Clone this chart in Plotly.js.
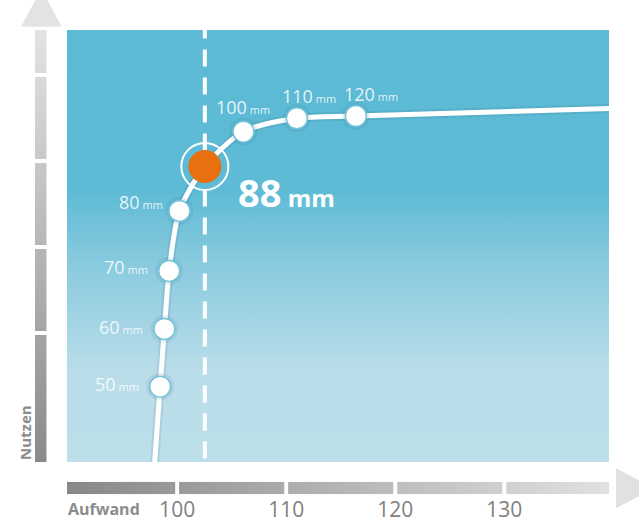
<!DOCTYPE html>
<html><head><meta charset="utf-8">
<script src="https://cdn.plot.ly/plotly-3.0.1.min.js"></script>
<style>html,body{margin:0;padding:0;background:#fff;}#chart{width:639px;height:524px;}</style>
</head><body><div id="chart"></div>
<script>
// ---------- data ----------
const xTicks = [100, 110, 120, 130];
const xTickLabels = ['100', '110', '120', '130'];
const yTicks = [1, 2, 3, 4];
const xRange = [89.9, 139.6];
const yRange = [-0.5, 4.523];

const sizeLabels = [50, 60, 70, 80, 100, 110, 120];
const sizeX = [98.44, 98.83, 99.27, 100.21, 106.08, 110.98, 116.39];
const sizeY = [0.376, 1.047, 1.721, 2.419, 3.341, 3.497, 3.523];

const optLabel = [88];
const optX = [102.54];
const optY = [2.936];

const curveX = [97.94, 98.44, 98.83, 99.27, 100.21, 102.54, 106.08, 110.98, 116.39, 139.63];
const curveY = [-0.5, 0.376, 1.047, 1.721, 2.419, 2.936, 3.341, 3.497, 3.523, 3.610];

// ---------- styles ----------
const W = 639, H = 524;
const px = v => v / W, py = v => 1 - v / H;
const FONT = 'Open Sans, sans-serif';
// label placement (pixel offsets relative to the point)
const labelStyle = [
  {anchor: 'right', dx: -19, dy: 3},
  {anchor: 'right', dx: -19, dy: 2},
  {anchor: 'right', dx: -19, dy: 4},
  {anchor: 'right', dx: -14, dy: 9},
  {anchor: 'center', dx: 0, dy: 25},
  {anchor: 'center', dx: 12, dy: 22},
  {anchor: 'center', dx: 15, dy: 22}
];

function segments(ticks, range, g) {
  const edges = [range[0]];
  ticks.forEach(t => { edges.push(t - g, t + g); });
  edges.push(range[1]);
  const out = [];
  for (let i = 0; i < edges.length; i += 2) out.push([edges[i], edges[i + 1]]);
  return out;
}

const traces = [];

// background gradient of the plot area
traces.push({
  x: [xRange[0], xRange[1], xRange[1], xRange[0], xRange[0]],
  y: [yRange[0], yRange[0], yRange[1], yRange[1], yRange[0]],
  xaxis: 'x', yaxis: 'y', mode: 'lines', fill: 'toself',
  line: {width: 0, color: 'rgba(0,0,0,0)'},
  fillgradient: {type: 'vertical', colorscale: [[0, '#bcdfea'], [0.21, '#b9dde9'], [0.45, '#8bcbdf'], [0.63, '#5ebbd5'], [1, '#5cbad4']]},
  hoverinfo: 'skip', showlegend: false
});

// x bar (Aufwand)
segments(xTicks, xRange, 0.18).forEach(([a, b]) => {
  traces.push({
    x: [a, b, b, a, a], y: [0, 0, 1, 1, 0], xaxis: 'x', yaxis: 'y2',
    mode: 'lines', fill: 'toself', line: {width: 0, color: 'rgba(0,0,0,0)'},
    fillgradient: {type: 'horizontal', start: xRange[0], stop: xRange[1], colorscale: [[0, '#88888a'], [1, '#e1e1e1']]},
    hoverinfo: 'skip', showlegend: false
  });
});
// y bar (Nutzen)
segments(yTicks, yRange, 0.023).forEach(([a, b]) => {
  traces.push({
    x: [0, 1, 1, 0, 0], y: [a, a, b, b, a], xaxis: 'x2', yaxis: 'y',
    mode: 'lines', fill: 'toself', line: {width: 0, color: 'rgba(0,0,0,0)'},
    fillgradient: {type: 'vertical', start: yRange[0], stop: yRange[1], colorscale: [[0, '#8a8a8a'], [1, '#e3e3e3']]},
    hoverinfo: 'skip', showlegend: false
  });
});

// dashed optimum line
traces.push({
  x: [optX[0], optX[0]], y: [yRange[1] + 0.1, yRange[0]], mode: 'lines',
  line: {color: '#ffffff', width: 4, dash: '17px,11px'}, hoverinfo: 'skip', showlegend: false
});

// curve shadow + curve
traces.push({
  x: curveX, y: curveY, mode: 'lines',
  line: {color: 'rgba(30,80,100,0.10)', width: 9, shape: 'spline', smoothing: 0.8},
  hoverinfo: 'skip', showlegend: false
});
traces.push({
  x: curveX, y: curveY, mode: 'lines',
  line: {color: '#ffffff', width: 5, shape: 'spline', smoothing: 0.8},
  hoverinfo: 'skip', showlegend: false
});

// point halos + points
traces.push({
  x: sizeX, y: sizeY, mode: 'markers',
  marker: {size: 28, color: 'rgba(30,80,100,0.08)', line: {width: 0}},
  hoverinfo: 'skip', showlegend: false
});
traces.push({
  x: sizeX, y: sizeY, mode: 'markers',
  marker: {size: 21, color: '#ffffff', line: {width: 1.5, color: '#74c3da'}},
  hoverinfo: 'skip', showlegend: false
});
// optimum
traces.push({
  x: optX, y: optY, mode: 'markers',
  marker: {size: 47, color: 'rgba(0,0,0,0)', line: {width: 2, color: '#ffffff'}},
  hoverinfo: 'skip', showlegend: false
});
traces.push({
  x: optX, y: optY, mode: 'markers',
  marker: {size: 33, color: '#e8700e', line: {width: 0}},
  hoverinfo: 'skip', showlegend: false
});

const annotations = [];
sizeLabels.forEach((s, i) => {
  const st = labelStyle[i];
  annotations.push({
    x: sizeX[i], y: sizeY[i], xref: 'x', yref: 'y', showarrow: false,
    xanchor: st.anchor, yanchor: 'middle', xshift: st.dx, yshift: st.dy,
    text: s + '<span style="font-size:11px"> mm</span>',
    font: {family: FONT, size: 18, color: 'rgba(255,255,255,0.85)'}
  });
});
annotations.push({
  x: optX[0], y: optY[0], xref: 'x', yref: 'y', showarrow: false,
  xanchor: 'left', yanchor: 'middle', xshift: 31, yshift: -26,
  text: '<b>' + optLabel[0] + '<span style="font-size:24px"> mm</span></b>',
  font: {family: FONT, size: 38, color: '#ffffff'}
});
annotations.push({
  x: px(25), y: py(433), xref: 'paper', yref: 'paper', showarrow: false,
  xanchor: 'center', yanchor: 'middle',
  textangle: -90, text: '<b>Nutzen</b>', font: {family: FONT, size: 15, color: '#8c8c8c'}
});
annotations.push({
  x: px(66), y: py(509), xref: 'paper', yref: 'paper', showarrow: false,
  xanchor: 'left', yanchor: 'middle', text: '<b>Aufwand</b>', font: {family: FONT, size: 16, color: '#8c8c8c'}
});

const shapes = [
  {type: 'path', xref: 'paper', yref: 'paper', layer: 'below',
   path: `M ${px(21)},${py(26.7)} L ${px(61.7)},${py(26.7)} L ${px(41.3)},${py(-11)} Z`,
   fillcolor: '#e3e3e3', line: {width: 0}},
  {type: 'path', xref: 'paper', yref: 'paper', layer: 'below',
   path: `M ${px(616)},${py(468.3)} L ${px(616)},${py(508.3)} L ${px(654)},${py(488.3)} Z`,
   fillcolor: '#e1e1e1', line: {width: 0}}
];

const layout = {
  width: W, height: H, margin: {l: 0, r: 0, t: 0, b: 0, pad: 0},
  paper_bgcolor: '#ffffff', plot_bgcolor: 'rgba(0,0,0,0)',
  showlegend: false, hovermode: false,
  font: {family: FONT},
  xaxis: {domain: [px(67), px(609)], range: xRange, anchor: 'y2', side: 'bottom',
    tickvals: xTicks, ticktext: xTickLabels, ticks: '', showgrid: false, zeroline: false, showline: false,
    tickfont: {family: FONT, size: 21, color: '#808080'}, ticklabelstandoff: 1, fixedrange: true},
  yaxis: {domain: [py(462), py(30)], range: yRange, anchor: 'x', visible: false, fixedrange: true},
  yaxis2: {domain: [py(494.3), py(481.7)], range: [0, 1], anchor: 'x', visible: false, fixedrange: true},
  xaxis2: {domain: [px(35), px(46.7)], range: [0, 1], anchor: 'y', visible: false, fixedrange: true},
  annotations: annotations, shapes: shapes
};

Plotly.newPlot('chart', traces, layout, {displayModeBar: false, staticPlot: true});
</script>
</body></html>
